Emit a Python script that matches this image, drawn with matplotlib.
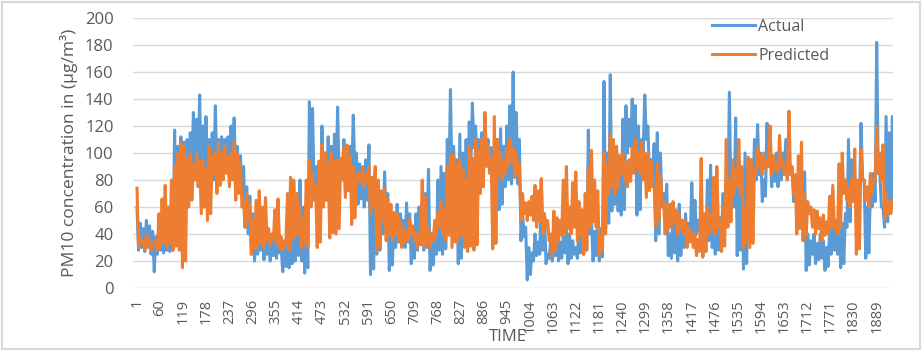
import pandas as pd
import matplotlib.pyplot as plt
from matplotlib.patches import Rectangle

# valores: para cada janela de 8 passos, o pico (t = 1, 9, 17, ...)
# e o vale (t = 5, 13, 21, ...) de cada série
time_hi = list(range(1, 1930, 8))
time_lo = list(range(5, 1934, 8))

actual_hi = [
    60, 48, 44, 50, 46, 42, 38, 40, 36, 38, 40, 35, 117, 105, 112, 108, 110, 115, 130, 125,
    143, 120, 127, 110, 115, 135, 110, 112, 110, 112, 120, 126, 105, 98, 90, 75, 68, 55, 48, 55,
    52, 45, 40, 36, 38, 35, 30, 35, 32, 45, 78, 50, 80, 60, 56, 138, 133, 90, 80, 120,
    100, 112, 105, 114, 134, 95, 110, 90, 105, 128, 100, 92, 85, 95, 106, 70, 85, 70, 60, 86,
    70, 48, 55, 62, 55, 50, 63, 55, 45, 55, 60, 50, 70, 88, 40, 35, 80, 90, 85, 110,
    147, 105, 95, 114, 100, 110, 123, 137, 120, 110, 115, 125, 110, 104, 100, 110, 118, 105, 120, 135,
    160, 130, 110, 55, 45, 30, 26, 40, 34, 80, 55, 25, 35, 30, 40, 34, 38, 45, 40, 35,
    30, 45, 55, 40, 117, 50, 42, 50, 44, 153, 100, 158, 95, 100, 90, 125, 135, 125, 140, 135,
    120, 110, 143, 120, 95, 107, 115, 100, 70, 77, 40, 62, 55, 62, 50, 55, 48, 78, 65, 50,
    44, 40, 80, 91, 45, 60, 52, 70, 70, 145, 80, 126, 95, 85, 100, 90, 95, 110, 121, 100,
    80, 122, 100, 92, 100, 95, 100, 110, 95, 88, 80, 72, 80, 86, 40, 35, 40, 33, 40, 35,
    30, 45, 50, 45, 55, 48, 55, 110, 95, 70, 65, 122, 80, 60, 75, 85, 182, 85, 60, 127, 115, 127,
]

actual_lo = [
    28, 30, 27, 30, 25, 12, 25, 28, 26, 28, 27, 28, 40, 55, 50, 56, 70, 85, 80, 90,
    70, 60, 70, 75, 80, 86, 78, 85, 90, 88, 93, 80, 78, 70, 45, 40, 25, 20, 25, 28,
    21, 25, 20, 24, 22, 26, 12, 16, 15, 18, 20, 24, 20, 11, 15, 70, 75, 47, 52, 75,
    65, 60, 66, 75, 80, 85, 70, 75, 80, 85, 62, 66, 60, 65, 10, 14, 25, 28, 40, 45,
    13, 17, 30, 34, 45, 30, 34, 18, 22, 28, 32, 28, 30, 13, 17, 25, 28, 25, 29, 70,
    75, 70, 18, 22, 60, 65, 90, 104, 95, 85, 90, 100, 90, 80, 84, 58, 62, 75, 80, 77,
    82, 77, 35, 38, 6, 10, 20, 24, 25, 28, 18, 22, 20, 24, 20, 22, 26, 18, 22, 25,
    22, 26, 25, 28, 40, 20, 24, 20, 23, 44, 48, 57, 62, 57, 54, 58, 100, 105, 98, 54,
    58, 100, 110, 80, 85, 35, 40, 60, 55, 24, 22, 26, 20, 24, 30, 34, 35, 38, 40, 43,
    23, 27, 35, 30, 25, 28, 40, 44, 60, 64, 60, 24, 28, 14, 18, 60, 64, 80, 84, 64,
    68, 90, 75, 79, 75, 80, 84, 85, 88, 64, 68, 70, 60, 13, 17, 25, 18, 21, 22, 13,
    16, 25, 28, 25, 15, 18, 45, 49, 70, 60, 64, 80, 22, 26, 60, 64, 85, 60, 45, 49, 60, 64,
]

predicted_hi = [
    74, 38, 34, 40, 36, 32, 35, 55, 66, 76, 60, 80, 90, 100, 108, 105, 96, 100, 92, 100,
    94, 95, 88, 105, 98, 100, 108, 100, 105, 97, 100, 108, 100, 92, 65, 70, 62, 50, 65, 72,
    60, 67, 44, 40, 58, 66, 38, 34, 70, 82, 80, 70, 60, 52, 80, 95, 85, 76, 94, 106,
    100, 92, 100, 94, 95, 96, 104, 106, 98, 90, 84, 85, 90, 84, 90, 82, 90, 80, 72, 74,
    66, 62, 56, 55, 50, 45, 41, 51, 46, 40, 41, 80, 68, 45, 40, 50, 56, 64, 58, 90,
    98, 99, 92, 95, 88, 80, 105, 96, 110, 102, 110, 130, 105, 96, 127, 110, 100, 94, 104, 110,
    104, 100, 92, 70, 63, 64, 68, 76, 72, 81, 55, 50, 40, 57, 52, 50, 80, 90, 60, 78,
    86, 64, 58, 70, 90, 102, 80, 72, 40, 100, 92, 114, 110, 105, 98, 100, 93, 95, 104, 110,
    100, 108, 100, 100, 94, 75, 92, 84, 65, 62, 62, 64, 58, 55, 50, 50, 45, 41, 40, 36,
    96, 55, 60, 54, 82, 90, 50, 60, 110, 80, 95, 88, 110, 90, 60, 97, 95, 88, 104, 98,
    100, 94, 120, 98, 92, 113, 95, 89, 131, 90, 84, 98, 108, 70, 64, 60, 58, 57, 52, 54,
    49, 68, 76, 50, 92, 100, 80, 74, 80, 103, 80, 103, 80, 75, 85, 80, 120, 100, 106, 70, 64, 65,
]

predicted_lo = [
    30, 33, 28, 31, 28, 32, 28, 30, 34, 30, 33, 28, 31, 28, 15, 20, 60, 65, 80, 75,
    55, 60, 50, 55, 85, 70, 76, 80, 85, 75, 80, 65, 70, 60, 45, 50, 25, 29, 30, 34,
    30, 35, 32, 36, 32, 30, 28, 32, 28, 35, 38, 40, 30, 34, 30, 60, 65, 30, 34, 60,
    65, 37, 41, 40, 44, 80, 67, 72, 47, 52, 80, 78, 75, 78, 55, 60, 27, 31, 50, 35,
    39, 35, 40, 35, 30, 34, 35, 39, 35, 30, 34, 30, 33, 30, 35, 39, 45, 40, 35, 39,
    30, 34, 35, 39, 30, 27, 31, 28, 32, 70, 75, 90, 85, 29, 33, 85, 80, 85, 90, 94,
    82, 86, 50, 55, 50, 54, 50, 45, 49, 40, 44, 35, 24, 28, 35, 39, 40, 44, 40, 45,
    35, 39, 25, 29, 45, 49, 45, 24, 28, 40, 70, 75, 70, 74, 85, 80, 75, 79, 85, 89,
    85, 80, 67, 72, 75, 45, 50, 65, 40, 44, 45, 49, 40, 44, 40, 30, 34, 30, 24, 27,
    23, 27, 40, 44, 40, 45, 27, 31, 45, 49, 70, 75, 70, 30, 34, 30, 33, 85, 89, 84,
    88, 90, 84, 88, 86, 90, 85, 80, 84, 70, 40, 44, 35, 39, 55, 45, 40, 44, 35, 39,
    40, 44, 45, 40, 44, 70, 65, 60, 64, 25, 29, 80, 65, 60, 70, 80, 85, 80, 50, 54, 55, 59,
]

tick_labels = list(range(1, 1890, 59))

# junta picos e vales numa série só, ordenada pelo tempo
df = pd.concat([
    pd.DataFrame({"time": time_hi, "actual": actual_hi, "predicted": predicted_hi}),
    pd.DataFrame({"time": time_lo, "actual": actual_lo, "predicted": predicted_lo}),
]).sort_values("time")

plt.rcParams["font.family"] = ["Open Sans", "DejaVu Sans"]

fig = plt.figure(figsize=(9.22, 3.51), dpi=100)
ax = fig.add_axes([133 / 922, 1 - 288 / 351, 760 / 922, 270 / 351])

ax.plot(df["time"], df["actual"], color="#5B9BD5", lw=2.2, label="Actual")
ax.plot(df["time"], df["predicted"], color="#ED7D31", lw=2.2, label="Predicted")

ax.set_xlim(-9.2, 1930.6)
ax.set_ylim(0, 200)
ax.set_yticks(range(0, 201, 20))
ax.set_xticks(tick_labels)
ax.set_xticklabels([str(t) for t in tick_labels], rotation=90, fontsize=10.5, color="#595959")
ax.tick_params(axis="y", labelsize=12, colors="#595959", length=0, pad=14)
ax.tick_params(axis="x", length=0, pad=8)

ax.grid(axis="y", color="#D9D9D9", lw=1)
ax.set_axisbelow(True)
for s in ax.spines.values():
    s.set_visible(False)

ax.set_ylabel("PM10 concentration in (μg/m³)", fontsize=12.6, color="#595959", labelpad=5)
fig.text(508 / 922, 1 - 337 / 351, "TIME", fontsize=12, color="#595959", ha="center", va="center")

ax.legend(loc="upper left", bbox_to_anchor=(712 / 922, 1 - 19 / 351),
          bbox_transform=fig.transFigure, frameon=False, fontsize=11.5,
          handlelength=2.7, handletextpad=0.2, labelspacing=0.8,
          borderpad=0, borderaxespad=0, labelcolor="#595959")

# moldura do gráfico
fig.patches.append(Rectangle((1.5 / 922, 2.5 / 351), 918 / 922, 347 / 351,
                             transform=fig.transFigure, fill=False,
                             edgecolor="#D9D9D9", lw=1.5))

fig.savefig("out.png", dpi=100)
